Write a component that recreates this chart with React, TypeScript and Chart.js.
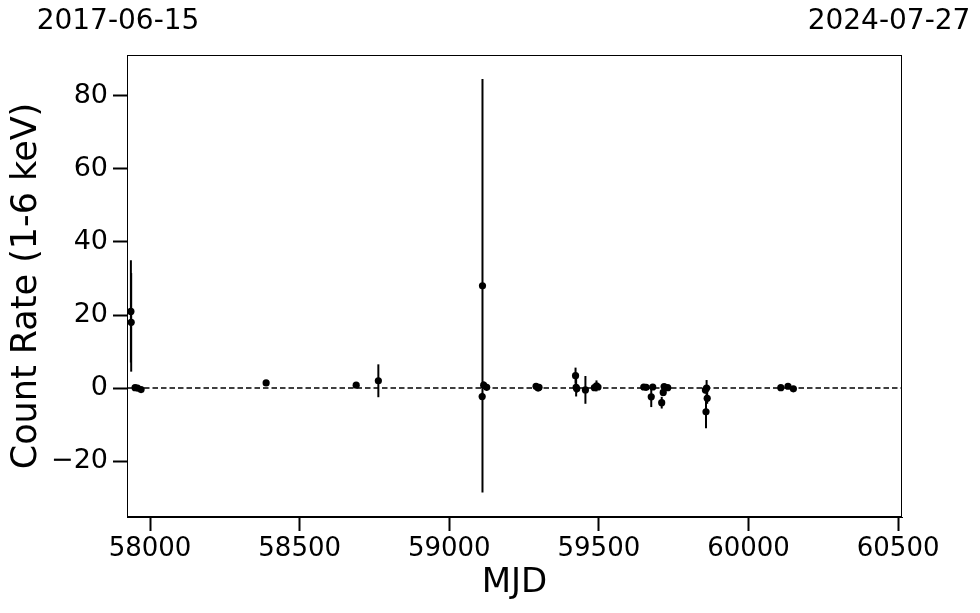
import React, { useEffect, useRef } from "react";
import { Chart, registerables } from "chart.js";

Chart.register(...registerables);

const mjd = [57936, 57937, 57950, 57958, 57970, 58388, 58689, 58763, 59111, 59110, 59115, 59125, 59290, 59297, 59300, 59422, 59424, 59426, 59455, 59485, 59492, 59497, 59650, 59658, 59675, 59680, 59710, 59715, 59718, 59730, 59860, 59862, 59858, 59856, 60108, 60132, 60150];
const rate = [21.0, 18.0, 0.1, 0.0, -0.4, 1.4, 0.8, 2.0, 28.0, -2.3, 0.8, 0.2, 0.5, 0.0, 0.2, 3.4, 0.2, -0.2, -0.5, 0.1, 0.6, 0.3, 0.3, 0.2, -2.4, 0.3, -4.0, -1.2, 0.4, 0.1, 0.0, -2.8, -6.5, -0.5, 0.1, 0.5, -0.2];
const rateErr = [14.0, 13.5, 0.5, 0.5, 0.6, 0.6, 0.5, 4.5, 56.6, 1.0, 1.0, 0.8, 0.6, 0.6, 0.5, 2.2, 2.5, 1.0, 3.8, 0.8, 1.5, 0.8, 0.5, 0.6, 2.8, 0.6, 1.6, 1.0, 0.6, 0.5, 2.2, 1.5, 4.5, 1.0, 0.4, 0.4, 0.4];

const xTicks = [58000, 58500, 59000, 59500, 60000, 60500];
const yTicks = [-20, 0, 20, 40, 60, 80];
const xRange = [57923, 60513];
const yRange = [-35.3, 91.2];
const dateLabels = ["2017-06-15", "2024-07-27"];
const xTitle = "MJD";
const yTitle = "Count Rate (1-6 keV)";

const FONT = "'DejaVu Sans', sans-serif";

const errorBarPlugin = {
  id: "errorBars",
  beforeDatasetsDraw(chart: any) {
    const { ctx, chartArea, scales } = chart;
    const xs = scales.x;
    const ys = scales.y;
    ctx.save();
    ctx.beginPath();
    ctx.rect(chartArea.left, chartArea.top, chartArea.right - chartArea.left, chartArea.bottom - chartArea.top);
    ctx.clip();
    ctx.strokeStyle = "#000";
    ctx.lineWidth = 1.5;
    ctx.setLineDash([5.5, 3]);
    const y0 = ys.getPixelForValue(0);
    ctx.beginPath();
    ctx.moveTo(chartArea.left, y0);
    ctx.lineTo(chartArea.right, y0);
    ctx.stroke();
    ctx.setLineDash([]);
    ctx.lineWidth = 2;
    for (let i = 0; i < mjd.length; i++) {
      const px = xs.getPixelForValue(mjd[i]);
      const top = ys.getPixelForValue(rate[i] + rateErr[i]);
      const bot = ys.getPixelForValue(rate[i] - rateErr[i]);
      ctx.beginPath();
      ctx.moveTo(px, top);
      ctx.lineTo(px, bot);
      ctx.stroke();
    }
    ctx.restore();
  },
  afterDraw(chart: any) {
    const { ctx, chartArea } = chart;
    ctx.save();
    ctx.strokeStyle = "#000";
    ctx.lineWidth = 1;
    ctx.strokeRect(chartArea.left + 0.5, chartArea.top + 0.5, chartArea.right - chartArea.left - 1, chartArea.bottom - chartArea.top - 1);
    ctx.fillStyle = "#000";
    ctx.font = `28px ${FONT}`;
    ctx.textBaseline = "middle";
    ctx.textAlign = "center";
    ctx.fillText(dateLabels[0], chartArea.left - 9, 22);
    ctx.fillText(dateLabels[1], chartArea.right - 13, 22);
    ctx.restore();
  },
};

const fmt = (v: number) => (v < 0 ? "\u2212" + Math.abs(v) : String(v));

export default function App() {
  const ref = useRef<HTMLCanvasElement | null>(null);
  useEffect(() => {
    if (!ref.current) return;
    const chart = new Chart(ref.current, {
      type: "scatter",
      data: {
        datasets: [
          {
            data: mjd.map((x, i) => ({ x, y: rate[i] })),
            backgroundColor: "#000",
            borderColor: "#000",
            pointRadius: 3.6,
            pointHoverRadius: 3.6,
            borderWidth: 0,
          },
        ],
      },
      options: {
        animation: false,
        responsive: false,
        events: [],
        layout: { padding: { top: 55, right: 78, left: 0, bottom: 0 } },
        plugins: { legend: { display: false }, tooltip: { enabled: false } },
        scales: {
          x: {
            type: "linear",
            min: xRange[0],
            max: xRange[1],
            afterBuildTicks: (s: any) => {
              s.ticks = xTicks.map((v) => ({ value: v }));
            },
            afterFit: (s: any) => {
              s.height = 96;
            },
            grid: { drawOnChartArea: false, drawTicks: true, tickLength: 14, tickWidth: 2, tickColor: "#000" },
            border: { display: true, color: "#000", width: 1 },
            ticks: { color: "#000", font: { family: FONT, size: 26 }, padding: 3, maxRotation: 0, callback: (v: any) => fmt(Number(v)) },
            title: { display: true, text: xTitle, color: "#000", font: { family: FONT, size: 34 }, padding: { top: 0, bottom: 9 } },
          },
          y: {
            type: "linear",
            min: yRange[0],
            max: yRange[1],
            afterBuildTicks: (s: any) => {
              s.ticks = yTicks.map((v) => ({ value: v }));
            },
            afterFit: (s: any) => {
              s.width = 127;
            },
            grid: { drawOnChartArea: false, drawTicks: true, tickLength: 14, tickWidth: 2, tickColor: "#000" },
            border: { display: true, color: "#000", width: 1 },
            ticks: { color: "#000", font: { family: FONT, size: 27 }, padding: 5, callback: (v: any) => fmt(Number(v)) },
            title: { display: true, text: yTitle, color: "#000", font: { family: FONT, size: 35 }, padding: { top: 6, bottom: 0 } },
          },
        },
      },
      plugins: [errorBarPlugin],
    });
    return () => chart.destroy();
  }, []);
  return (
    <div style={{ position: "fixed", left: 0, top: 0, width: 980, height: 613, background: "#fff" }}>
      <canvas ref={ref} width={980} height={613} />
    </div>
  );
}
